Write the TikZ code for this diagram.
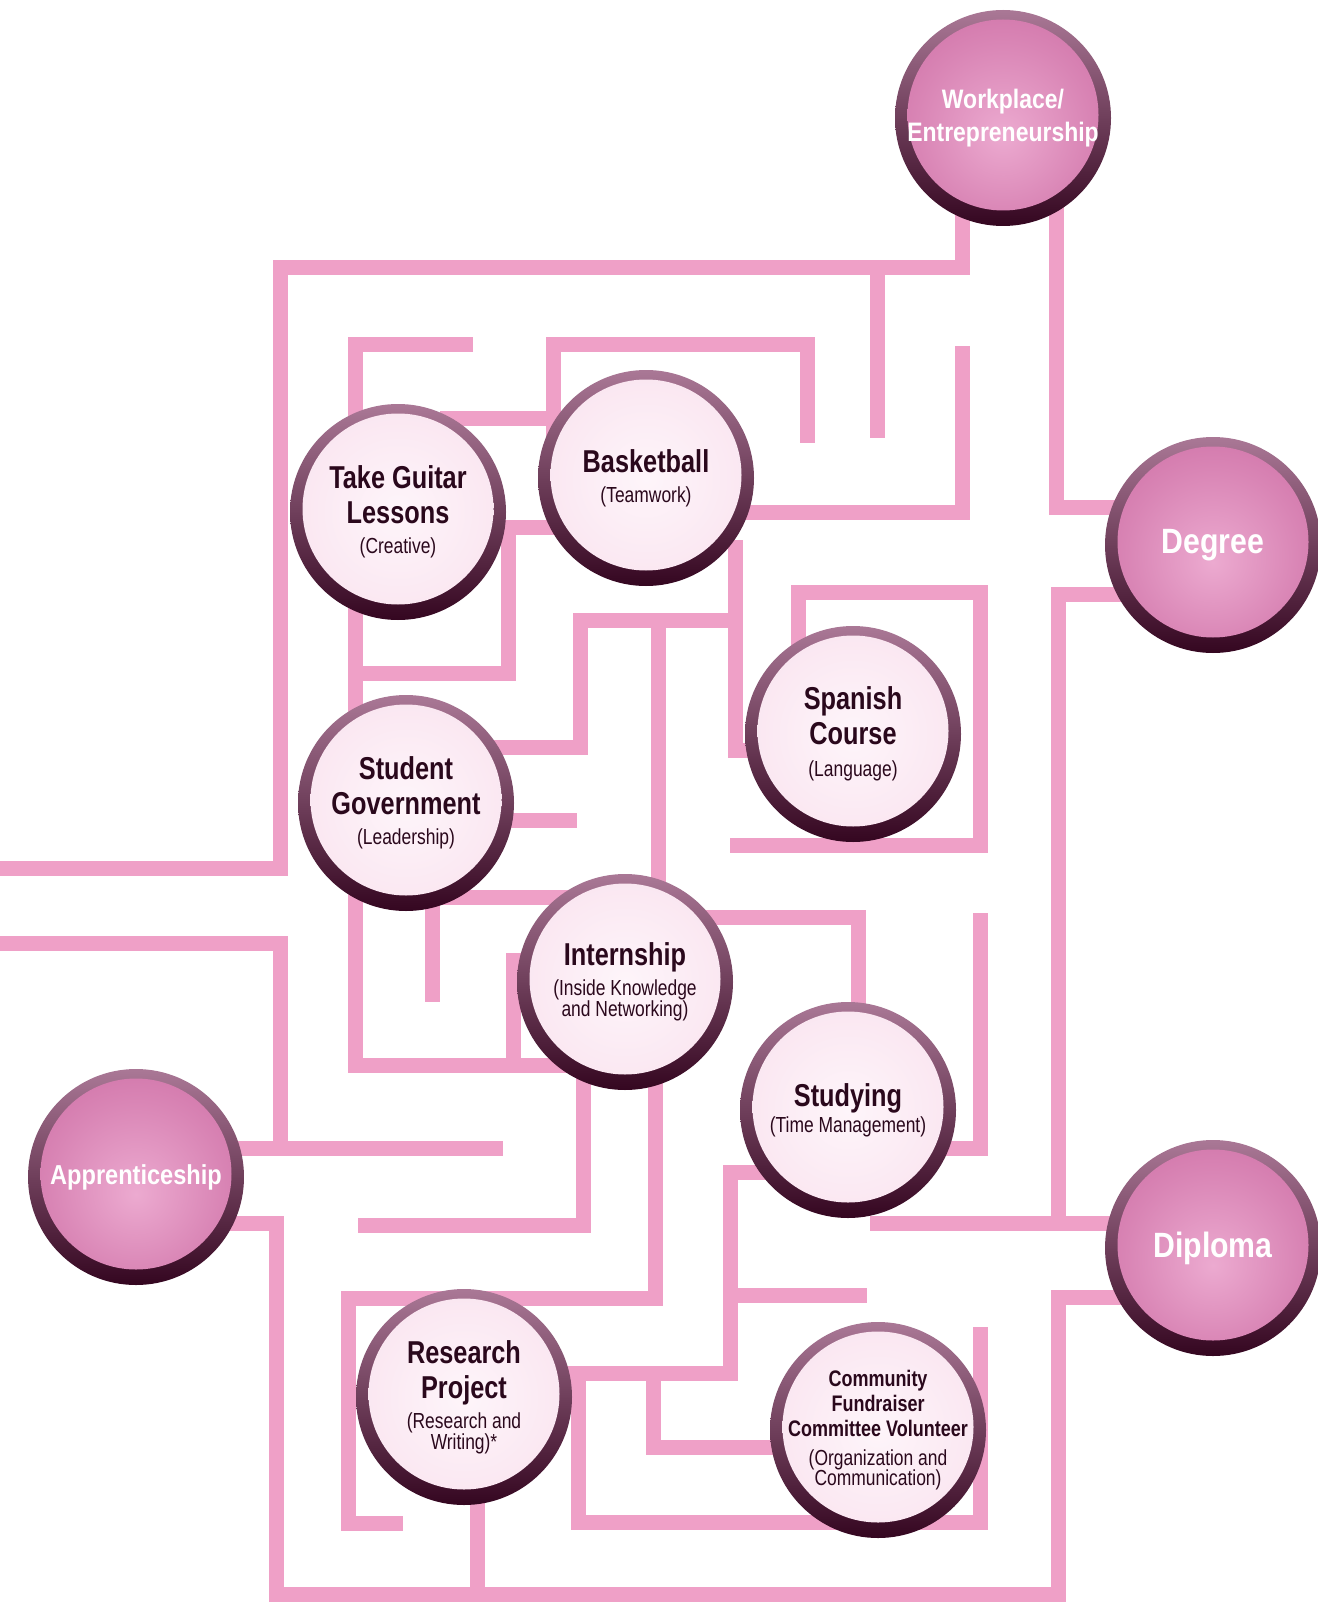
\documentclass[tikz,border=0pt]{standalone}
\usepackage{fontspec}
\setmainfont{Liberation Sans}
\newfontfamily\condfont{Liberation Sans}[FakeStretch=0.8]
\newfontfamily\goalfont{Liberation Sans}[FakeStretch=0.86]
\definecolor{mazepink}{RGB}{239,160,199}
\definecolor{rimtop}{RGB}{170,120,150}
\definecolor{rimbot}{RGB}{52,6,32}
\definecolor{facein}{RGB}{254,245,250}
\definecolor{faceout}{RGB}{242,200,222}
\definecolor{goalin}{RGB}{236,170,208}
\definecolor{goalout}{RGB}{198,96,154}
\definecolor{btntext}{RGB}{42,8,28}
\pgfdeclareradialshading{btnface}{\pgfpoint{0bp}{0bp}}{color(0bp)=(facein); color(22bp)=(facein!70!faceout); color(44bp)=(faceout); color(50bp)=(faceout!80!rimbot)}
\pgfdeclareradialshading{goalface}{\pgfpoint{0bp}{-4bp}}{color(0bp)=(goalin); color(20bp)=(goalin!50!goalout); color(42bp)=(goalout); color(50bp)=(goalout!80!rimbot)}
\newcommand{\btnsub}[1]{{\mdseries\fontsize{6.2}{7}\selectfont #1}}
\tikzset{
  maze/.style={draw=mazepink, line width=1.5mm, line join=miter},
  btn/.style={circle, minimum size=2.16cm, inner sep=0pt, align=center,
    top color=rimtop, bottom color=rimbot, text=btntext,
    font=\condfont\bfseries\fontsize{9}{10}\selectfont,
    path picture={\shade[shading=btnface] ([yshift=0.3mm]path picture bounding box.center) circle (0.955cm);}},
  goal/.style={btn, text=white, font=\goalfont\bfseries\fontsize{10}{11}\selectfont,
    path picture={\shade[shading=goalface] ([yshift=0.3mm]path picture bounding box.center) circle (0.955cm);}}
}
\begin{document}
\begin{tikzpicture}[x=0.1mm,y=-0.1mm]
\useasboundingbox (0,0) rectangle (1317,1604);
\draw[maze] (962,200)--(962,268)--(280,268)--(280,868)--(0,868);
\draw[maze] (877,268)--(877,438);
\draw[maze] (1056,200)--(1056,507)--(1140,507);
\draw[maze] (962,346)--(962,512)--(700,512);
\draw[maze] (553,440)--(553,345)--(807,345)--(807,443);
\draw[maze] (473,345)--(355,345)--(355,1065)--(580,1065);
\draw[maze] (440,418)--(570,418);
\draw[maze] (470,527)--(570,527);
\draw[maze] (508,527)--(508,673)--(355,673);
\draw[maze] (735,540)--(735,750)--(780,750);
\draw[maze] (735,620)--(580,620)--(580,747)--(470,747);
\draw[maze] (658,620)--(658,900);
\draw[maze] (470,820)--(577,820);
\draw[maze] (798,660)--(798,592)--(980,592)--(980,845)--(730,845);
\draw[maze] (440,897)--(580,897);
\draw[maze] (432,890)--(432,1002);
\draw[maze] (545,960)--(513,960)--(513,1065);
\draw[maze] (690,917)--(858,917)--(858,1030);
\draw[maze] (980,913)--(980,1148)--(925,1148);
\draw[maze] (0,943)--(280,943)--(280,1148);
\draw[maze] (220,1148)--(503,1148);
\draw[maze] (220,1223)--(276,1223)--(276,1594)--(1058,1594)--(1058,1297)--(1140,1297);
\draw[maze] (583,1070)--(583,1225)--(358,1225);
\draw[maze] (655,1070)--(655,1298)--(348,1298)--(348,1523)--(403,1523);
\draw[maze] (540,1373)--(730,1373)--(730,1172)--(790,1172);
\draw[maze] (653,1373)--(653,1447)--(800,1447);
\draw[maze] (730,1295)--(867,1295);
\draw[maze] (578,1373)--(578,1522)--(980,1522)--(980,1327);
\draw[maze] (477,1480)--(477,1594);
\draw[maze] (870,1223)--(1140,1223);
\draw[maze] (1140,594)--(1058,594)--(1058,1223);
\node[goal, font=\goalfont\bfseries\fontsize{7.6}{9.6}\selectfont] (work) at (1003,118) {Workplace/\\Entrepreneurship};
\node[goal] (degree) at (1213,545) {Degree};
\node[goal] (diploma) at (1213,1248) {Diploma};
\node[goal, font=\goalfont\bfseries\fontsize{7.8}{9}\selectfont] (appr) at (136,1177) {Apprenticeship};
\node[btn] (guitar) at (398,512) {Take Guitar\\Lessons\\[-1.5pt]\btnsub{(Creative)}};
\node[btn] (basket) at (646,478) {Basketball\\[-1.5pt]\btnsub{(Teamwork)}};
\node[btn] (spanish) at (853,734) {Spanish\\Course\\[-1pt]\btnsub{(Language)}};
\node[btn] (stugov) at (406,803) {Student\\Government\\[-1.5pt]\btnsub{(Leadership)}};
\node[btn] (intern) at (625,982) {Internship\\[-1.5pt]\btnsub{(Inside Knowledge}\\[-4pt]\btnsub{and Networking)}};
\node[btn] (study) at (848,1110) {Studying\\[-2.5pt]\btnsub{(Time Management)}};
\node[btn] (research) at (464,1397) {Research\\Project\\[-1.5pt]\btnsub{(Research and}\\[-4pt]\btnsub{Writing)*}};
\node[btn, font=\condfont\bfseries\fontsize{6.4}{7.2}\selectfont] (community) at (878,1430) {Community\\Fundraiser\\Committee Volunteer\\[1pt]\btnsub{(Organization and}\\[-1.4pt]\btnsub{Communication)}};
\end{tikzpicture}
\end{document}
